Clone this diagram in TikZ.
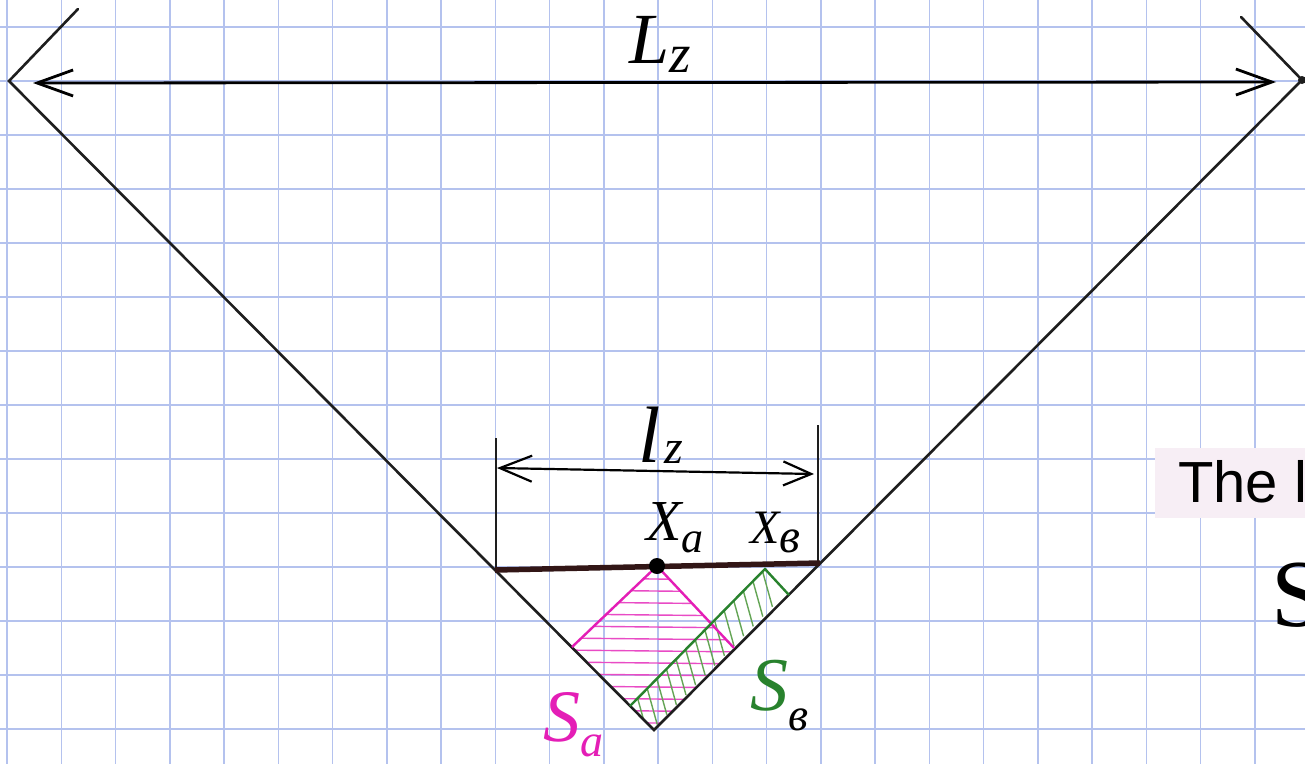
\documentclass[tikz,border=0pt]{standalone}
\usepackage{fontspec}
\setmainfont{Liberation Serif}
\newfontfamily\sansf{Liberation Sans}
\usetikzlibrary{arrows.meta}
\definecolor{gridblue}{RGB}{180,194,238}
\definecolor{ink}{RGB}{30,30,30}
\definecolor{pinkm}{RGB}{228,30,182}
\definecolor{greenm}{RGB}{40,130,45}
\definecolor{greenh}{RGB}{100,165,85}
\definecolor{boxpink}{RGB}{247,238,245}
\definecolor{barc}{RGB}{50,22,22}
\tikzset{
  gridline/.style={draw=gridblue,line width=1.5pt},
  vline/.style={draw=ink,line width=2.6pt,line cap=round},
  extline/.style={draw=ink,line width=1.8pt},
  bigdim/.style={draw=black,line width=2.8pt,{Straight Barb[length=36pt,width=26pt]}-{Straight Barb[length=36pt,width=26pt]}},
  smalldim/.style={draw=black,line width=2.2pt,{Straight Barb[length=32pt,width=26pt]}-{Straight Barb[length=28pt,width=24pt]}},
  cutline/.style={draw=barc,line width=5.5pt},
  magline/.style={draw=pinkm,line width=2.4pt},
  maghatch/.style={draw=pinkm!80,line width=1.4pt},
  grnline/.style={draw=greenm,line width=2.4pt},
  grnhatch/.style={draw=greenh,line width=1.4pt},
  lbl/.style={inner sep=0pt,anchor=base west,text=black},
}
\begin{document}
\begin{tikzpicture}[x=1pt,y=-1pt]
\useasboundingbox (0,0) rectangle (1305,764);
\clip (0,0) rectangle (1305,764);
\fill[white] (0,0) rectangle (1305,764);
% grid paper
\foreach \k in {0,...,24} \draw[gridline] ({7+54.25*\k},0) -- ({7+54.25*\k},764);
\foreach \k in {0,...,13} \draw[gridline] (0,{27+54*\k}) -- (1305,{27+54*\k});

% key points
\coordinate (TL) at (9,81);
\coordinate (TLt) at (78,9);
\coordinate (TR) at (1302,80);
\coordinate (TRt) at (1241,17);
\coordinate (B) at (654,730);
\coordinate (LzA) at (33,83);
\coordinate (LzB) at (1276,82);
\coordinate (EL1) at (496,438);
\coordinate (EL2) at (496,570);
\coordinate (ER1) at (818,425);
\coordinate (ER2) at (818,564);
\coordinate (lzA) at (497,468);
\coordinate (lzB) at (814,474);
\coordinate (P1) at (495,570);
\coordinate (P2) at (820,563);
\coordinate (Xa) at (657,566);
\coordinate (ML) at (572,647);
\coordinate (MR) at (734,648);
\coordinate (G1) at (630,706);
\coordinate (G2) at (765,569);
\coordinate (G3) at (789,595);

% pasted text box fragment
\fill[boxpink] (1155,448) rectangle (1310,518);
\node[lbl] (thebox) at (1178,502) {\sansf\fontsize{58}{58}\selectfont The l};
\node[lbl] (partS) at (1271,626) {\fontsize{96}{96}\selectfont S};

% magenta hatching
\begin{scope}
  \clip (Xa) -- (ML) -- (B) -- (MR) -- cycle;
  \foreach \y in {578,590,...,722} \draw[maghatch] (560,\y) -- (750,{\y+2});
\end{scope}
% green hatching
\begin{scope}
  \clip (G1) -- (G2) -- (G3) -- (B) -- cycle;
  \foreach \i in {0,...,14} \draw[grnhatch] ({628+9.6*\i},{708-9.8*\i}) -- ++(10,36);
\end{scope}

% V shape
\draw[vline] (TLt) -- (TL) -- (B) -- (TR) -- (TRt);
\fill[ink] (TR) circle (4);
% dimension Lz
\draw[bigdim] (LzA) -- (LzB);
\node[lbl] (Lzl) at (629,63) {\fontsize{72}{72}\selectfont\itshape L\raisebox{-9pt}{\fontsize{55}{55}\selectfont z}};
% dimension lz
\draw[extline] (EL1) -- (EL2);
\draw[extline] (ER1) -- (ER2);
\draw[smalldim] (lzA) -- (lzB);
\node[lbl] (lzl) at (638,462) {\fontsize{80}{80}\selectfont\itshape l\hspace{4pt}\raisebox{-1pt}{\fontsize{48}{48}\selectfont z}};

% magenta and green outlines
\draw[magline] (ML) -- (Xa) -- (MR);
\draw[grnline] (G1) -- (G2) -- (G3);

% cut line and point
\draw[cutline] (P1) -- (P2);
\fill[black] (Xa) circle (8);

% labels
\node[lbl] (Xal) at (646,540) {\fontsize{58}{58}\selectfont\itshape X\raisebox{-12pt}{\fontsize{44}{44}\selectfont a}};
\node[lbl] (Xbl) at (750,543) {\fontsize{48}{48}\selectfont\itshape X\raisebox{-9pt}{\fontsize{48}{48}\selectfont в}};
\node[lbl,text=pinkm] (Sal) at (543,741) {\fontsize{74}{74}\selectfont\itshape S\raisebox{-15pt}{\fontsize{46}{46}\selectfont a}};
\node[lbl,text=greenm] (Sbl) at (750,710) {\fontsize{76}{76}\selectfont\itshape S\raisebox{-20pt}{\fontsize{46}{46}\selectfont\color{black}в}};
\end{tikzpicture}
\end{document}
